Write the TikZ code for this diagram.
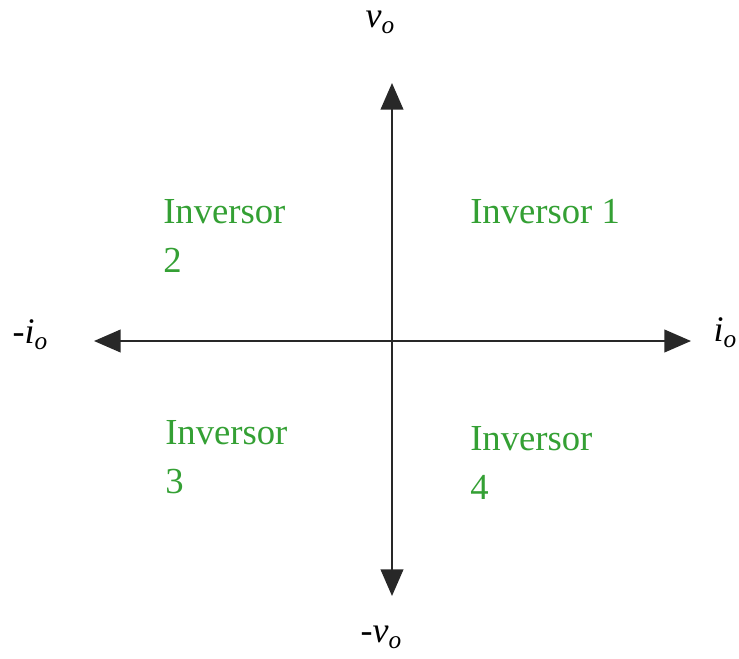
\documentclass[tikz,border=0pt]{standalone}
\usepackage{xcolor}
\usepackage{fontspec}
\setmainfont{Liberation Serif}
\usepackage{tikz}
\usetikzlibrary{arrows.meta, positioning}
\definecolor{mygreen}{RGB}{52,160,52}
\definecolor{mydark}{RGB}{40,40,40}
\newcommand{\axlbl}[2]{\textit{#1}\raisebox{-0.35ex}{\fontsize{19}{19}\selectfont\textit{#2}}}
\tikzset{
  axis/.style={{Triangle[width=17pt, length=20pt]}-{Triangle[width=17pt, length=20pt]},
    line width=1.5pt, color=mydark},
  quadlbl/.style={anchor=base west, align=left, inner sep=0pt, text=mygreen,
    font=\fontsize{27.5}{36.75}\selectfont},
  axlabel/.style={inner sep=0pt, font=\fontsize{27}{30}\selectfont}
}

\begin{document}
\begin{tikzpicture}[x=0.75pt, y=-0.75pt]
  \useasboundingbox (0,0) rectangle (739,658);
  % Axis ends
  \coordinate (top) at (392,83);
  \coordinate (bot) at (392,596);
  \coordinate (lft) at (94,341);
  \coordinate (rgt) at (691,341);
  
  % Axes
  \draw[axis] (bot) -- (top);
  \draw[axis] (lft) -- (rgt);
  
  % Axis labels
  \node[axlabel] (vo) at (380,22) {\axlbl{v}{o}};
  \node[axlabel] (mvo) at (381,637) {-\axlbl{v}{o}};
  \node[axlabel] (mio) at (30,335) {-\axlbl{i}{o}};
  \node[axlabel] (io) at (725,333) {\axlbl{i}{o}};
  
  % Quadrants (base = last line)
  \node[quadlbl] (q1) at (470,223) {Inversor 1};
  \node[quadlbl] (q2) at (163,272) {Inversor\\2};
  \node[quadlbl] (q3) at (165,493) {Inversor\\3};
  \node[quadlbl] (q4) at (470,499) {Inversor\\4};
\end{tikzpicture}
\end{document}
